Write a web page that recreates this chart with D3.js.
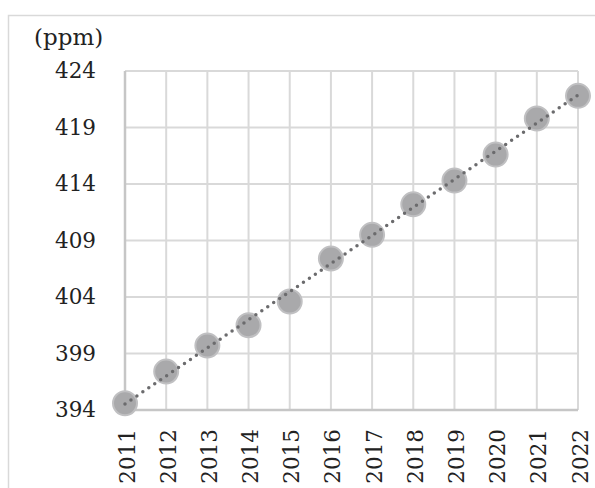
<!DOCTYPE html>
<html>
<head>
<meta charset="utf-8">
<script src="https://cdn.jsdelivr.net/npm/d3@7"></script>
<style>
  html, body { margin: 0; padding: 0; background: #fff; }
  svg { display: block; }
  text { font-family: "DejaVu Serif", serif; fill: #222; }
</style>
</head>
<body>
<svg id="chart" width="595" height="488"></svg>
<script>
const years = [2011, 2012, 2013, 2014, 2015, 2016, 2017, 2018, 2019, 2020, 2021, 2022];
const ppm = [394.6, 397.4, 399.7, 401.5, 403.6, 407.4, 409.5, 412.2, 414.3, 416.6, 419.8, 421.8];
const yTicks = [394, 399, 404, 409, 414, 419, 424];
const unitLabel = "(ppm)";

(function () {
const svg = d3.select("#chart");
const pLeft = 125, pRight = 578, pTop = 71, pBottom = 410;
const FONT = "DejaVu Serif, serif";

svg.append("rect")
  .attr("x", 8.5).attr("y", 15.5).attr("width", 620).attr("height", 520)
  .attr("fill", "none").attr("stroke", "#d9d9d9").attr("stroke-width", 1.5);

const x = d3.scaleLinear().domain([years[0], years[years.length - 1]]).range([pLeft, pRight]);
const y = d3.scaleLinear().domain([yTicks[0], yTicks[yTicks.length - 1]]).range([pBottom, pTop]);

const g = svg.append("g");
g.selectAll("line.h").data(yTicks).join("line")
  .attr("x1", pLeft).attr("x2", pRight)
  .attr("y1", d => y(d)).attr("y2", d => y(d))
  .attr("stroke", "#d9d9d9").attr("stroke-width", 2);
g.selectAll("line.v").data(years).join("line")
  .attr("y1", pTop).attr("y2", pBottom)
  .attr("x1", d => x(d)).attr("x2", d => x(d))
  .attr("stroke", "#d9d9d9").attr("stroke-width", 2);
g.append("line").attr("x1", pLeft).attr("x2", pRight).attr("y1", pBottom).attr("y2", pBottom)
  .attr("stroke", "#c6c6c6").attr("stroke-width", 2.5);
g.append("line").attr("x1", pLeft).attr("x2", pLeft).attr("y1", pTop).attr("y2", pBottom)
  .attr("stroke", "#c6c6c6").attr("stroke-width", 2.5);

const yAxis = d3.axisLeft(y).tickValues(yTicks).tickSize(0).tickPadding(0).tickFormat(d3.format("d"));
const ya = svg.append("g").attr("transform", "translate(96,0)").call(yAxis);
ya.attr("font-family", FONT);
ya.select(".domain").remove();
ya.selectAll("text").attr("font-size", 21.5).attr("font-family", FONT).attr("fill", "#222");

svg.append("g").selectAll("text").data(years).join("text")
  .attr("transform", d => `translate(${x(d) + 2},429) rotate(-90)`)
  .attr("text-anchor", "end")
  .attr("dy", "0.35em")
  .attr("font-size", 21.5)
  .attr("font-family", FONT)
  .text(d => d);

svg.append("text").attr("x", 34).attr("y", 45).attr("font-size", 23)
  .attr("font-family", FONT).text(unitLabel);

svg.append("g").selectAll("circle").data(years).join("circle")
  .attr("cx", d => x(d)).attr("cy", (d, i) => y(ppm[i]))
  .attr("r", 12)
  .attr("fill", "#a9a9ab").attr("stroke", "#c0c0c2").attr("stroke-width", 2);

const n = years.length;
const mx = d3.mean(years), my = d3.mean(ppm);
const slope = d3.sum(years, (d, i) => (d - mx) * (ppm[i] - my)) / d3.sum(years, d => (d - mx) ** 2);
const icpt = my - slope * mx;
const trend = [years[0], years[n - 1]].map(t => [t, icpt + slope * t]);
svg.append("path")
  .attr("d", d3.line().x(d => x(d[0])).y(d => y(d[1]))(trend))
  .attr("fill", "none").attr("stroke", "#6b6b6d").attr("stroke-width", 3.5)
  .attr("stroke-linecap", "round").attr("stroke-dasharray", "0 7.2");
})();
</script>
</body>
</html>
